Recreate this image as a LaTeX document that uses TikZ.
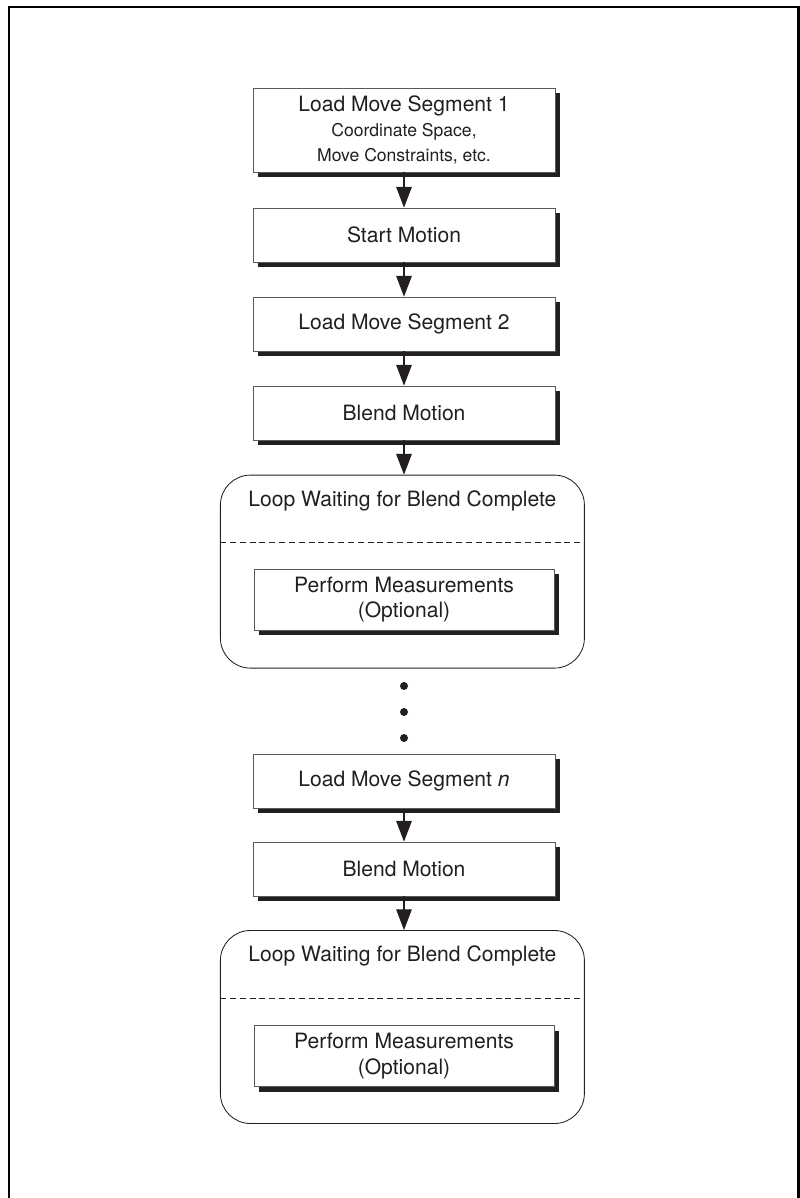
\documentclass[tikz,border=0pt]{standalone}
\usepackage{fontspec}
\setmainfont{TeX Gyre Heros}
\usetikzlibrary{positioning, arrows.meta, shadows, calc}
\definecolor{inkGray}{HTML}{231F20}
\definecolor{edgeGray}{HTML}{58595B}

\begin{document}
\begin{tikzpicture}[
    stepBox/.style={draw=edgeGray, line width=0.5pt, rectangle, fill=white, align=center, text=inkGray, font=\fontsize{15}{18}\selectfont, minimum width=7.55cm, minimum height=1.35cm, inner sep=0pt, drop shadow={shadow xshift=0.125cm, shadow yshift=-0.125cm, fill=inkGray, opacity=1}},
    loopBox/.style={draw=inkGray, line width=0.6pt, rectangle, rounded corners=0.75cm, fill=white, minimum width=9.1cm, minimum height=4.825cm},
    loopTitle/.style={text=inkGray, font=\fontsize{15}{18}\selectfont, inner sep=0pt},
    subLine/.style={draw=inkGray, line width=0.5pt, dash pattern=on 4.3pt off 2.7pt},
    flow/.style={draw=inkGray, line width=0.8pt, -{Triangle[width=0.39cm, length=0.52cm]}},
    dotMark/.style={circle, fill=inkGray, inner sep=0pt, minimum size=0.2cm},
]
\useasboundingbox (0,0) rectangle (20,-29.95);
% frame, open at the bottom
\draw[line width=1.8pt, black] (0.225,-29.95) |- (19.96,-0.175) -- (19.96,-29.95);

\node[stepBox, minimum height=2.1cm] (segOne) at (10.1,-3.25) {
    Load Move Segment 1\\
    {\fontsize{12.5}{15}\selectfont Coordinate Space,}\\
    {\fontsize{12.5}{15}\selectfont Move Constraints, etc.}
};
\node[stepBox] (startMove) at (10.1,-5.875) {Start Motion};
\node[stepBox] (segTwo) at (10.1,-8.1) {Load Move Segment 2};
\node[stepBox] (blendOne) at (10.1,-10.325) {Blend Motion};

\node[loopBox] (loopOne) at (10.06,-14.29) {};
\node[loopTitle] (loopOneTitle) at ($(loopOne.north)+(0,-0.65)$) {Loop Waiting for Blend Complete};
\draw[subLine] ($(loopOne.north west)+(0,-1.7)$) -- ($(loopOne.north east)+(0,-1.7)$);
\node[stepBox, minimum width=7.5cm, minimum height=1.525cm] (measOne) at (10.1,-14.99) {Perform Measurements\\(Optional)};

\node[dotMark] (dotA) at (10.1,-17.15) {};
\node[dotMark] (dotB) at (10.1,-17.8) {};
\node[dotMark] (dotC) at (10.1,-18.45) {};

\node[stepBox] (segN) at (10.1,-19.53) {Load Move Segment \textit{n}};
\node[stepBox] (blendTwo) at (10.1,-21.725) {Blend Motion};

\node[loopBox] (loopTwo) at (10.06,-25.675) {};
\node[loopTitle] (loopTwoTitle) at ($(loopTwo.north)+(0,-0.65)$) {Loop Waiting for Blend Complete};
\draw[subLine] ($(loopTwo.north west)+(0,-1.7)$) -- ($(loopTwo.north east)+(0,-1.7)$);
\node[stepBox, minimum width=7.5cm, minimum height=1.525cm] (measTwo) at (10.1,-26.4) {Perform Measurements\\(Optional)};

\draw[flow] (segOne) -- (startMove);
\draw[flow] (startMove) -- (segTwo);
\draw[flow] (segTwo) -- (blendOne);
\draw[flow] (blendOne) -- (loopOne.north -| blendOne);
\draw[flow] (segN) -- (blendTwo);
\draw[flow] (blendTwo) -- (loopTwo.north -| blendTwo);
\end{tikzpicture}
\end{document}
